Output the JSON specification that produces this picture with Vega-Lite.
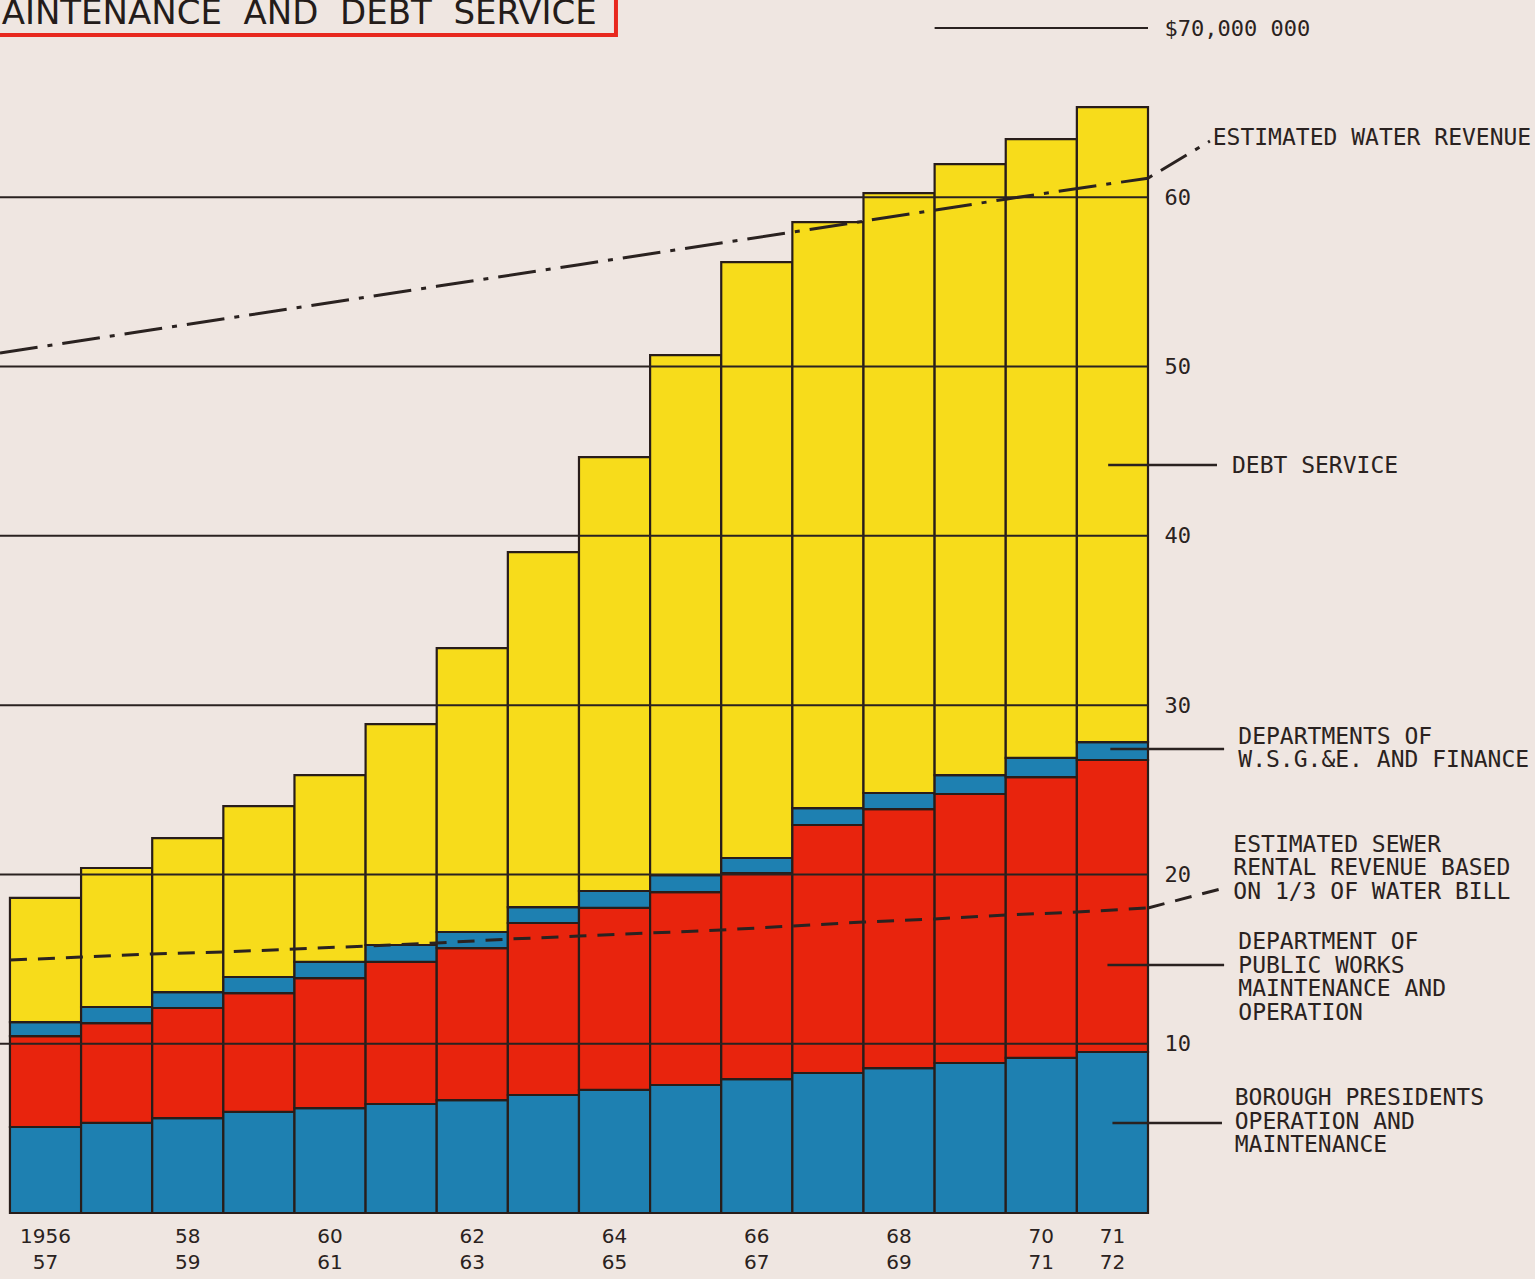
{
  "$schema": "https://vega.github.io/schema/vega-lite/v6.json",
  "width": 1148,
  "height": 1185,
  "autosize": {"type": "none"},
  "padding": {"left": 0, "top": 28, "right": 387, "bottom": 66},
  "background": "#efe6e1",
  "config": {"view": {"stroke": null}},
  "datasets": {
    "bars": [
      {"start":1956,"end":1957,"component":"Borough Presidents","order":1,"amount":5.08},
      {"start":1956,"end":1957,"component":"Public Works","order":2,"amount":5.37},
      {"start":1956,"end":1957,"component":"W.S.G.&E. and Finance","order":3,"amount":0.83},
      {"start":1956,"end":1957,"component":"Debt Service","order":4,"amount":7.33},
      {"start":1957,"end":1958,"component":"Borough Presidents","order":1,"amount":5.32},
      {"start":1957,"end":1958,"component":"Public Works","order":2,"amount":5.90},
      {"start":1957,"end":1958,"component":"W.S.G.&E. and Finance","order":3,"amount":0.95},
      {"start":1957,"end":1958,"component":"Debt Service","order":4,"amount":8.21},
      {"start":1958,"end":1959,"component":"Borough Presidents","order":1,"amount":5.61},
      {"start":1958,"end":1959,"component":"Public Works","order":2,"amount":6.50},
      {"start":1958,"end":1959,"component":"W.S.G.&E. and Finance","order":3,"amount":0.94},
      {"start":1958,"end":1959,"component":"Debt Service","order":4,"amount":9.10},
      {"start":1959,"end":1960,"component":"Borough Presidents","order":1,"amount":5.97},
      {"start":1959,"end":1960,"component":"Public Works","order":2,"amount":7.02},
      {"start":1959,"end":1960,"component":"W.S.G.&E. and Finance","order":3,"amount":0.95},
      {"start":1959,"end":1960,"component":"Debt Service","order":4,"amount":10.10},
      {"start":1960,"end":1961,"component":"Borough Presidents","order":1,"amount":6.20},
      {"start":1960,"end":1961,"component":"Public Works","order":2,"amount":7.68},
      {"start":1960,"end":1961,"component":"W.S.G.&E. and Finance","order":3,"amount":0.95},
      {"start":1960,"end":1961,"component":"Debt Service","order":4,"amount":11.04},
      {"start":1961,"end":1962,"component":"Borough Presidents","order":1,"amount":6.44},
      {"start":1961,"end":1962,"component":"Public Works","order":2,"amount":8.39},
      {"start":1961,"end":1962,"component":"W.S.G.&E. and Finance","order":3,"amount":1.00},
      {"start":1961,"end":1962,"component":"Debt Service","order":4,"amount":13.05},
      {"start":1962,"end":1963,"component":"Borough Presidents","order":1,"amount":6.67},
      {"start":1962,"end":1963,"component":"Public Works","order":2,"amount":8.98},
      {"start":1962,"end":1963,"component":"W.S.G.&E. and Finance","order":3,"amount":0.95},
      {"start":1962,"end":1963,"component":"Debt Service","order":4,"amount":16.77},
      {"start":1963,"end":1964,"component":"Borough Presidents","order":1,"amount":6.97},
      {"start":1963,"end":1964,"component":"Public Works","order":2,"amount":10.16},
      {"start":1963,"end":1964,"component":"W.S.G.&E. and Finance","order":3,"amount":0.94},
      {"start":1963,"end":1964,"component":"Debt Service","order":4,"amount":20.97},
      {"start":1964,"end":1965,"component":"Borough Presidents","order":1,"amount":7.27},
      {"start":1964,"end":1965,"component":"Public Works","order":2,"amount":10.75},
      {"start":1964,"end":1965,"component":"W.S.G.&E. and Finance","order":3,"amount":1.00},
      {"start":1964,"end":1965,"component":"Debt Service","order":4,"amount":25.63},
      {"start":1965,"end":1966,"component":"Borough Presidents","order":1,"amount":7.56},
      {"start":1965,"end":1966,"component":"Public Works","order":2,"amount":11.40},
      {"start":1965,"end":1966,"component":"W.S.G.&E. and Finance","order":3,"amount":1.00},
      {"start":1965,"end":1966,"component":"Debt Service","order":4,"amount":30.72},
      {"start":1966,"end":1967,"component":"Borough Presidents","order":1,"amount":7.91},
      {"start":1966,"end":1967,"component":"Public Works","order":2,"amount":12.17},
      {"start":1966,"end":1967,"component":"W.S.G.&E. and Finance","order":3,"amount":0.89},
      {"start":1966,"end":1967,"component":"Debt Service","order":4,"amount":35.20},
      {"start":1967,"end":1968,"component":"Borough Presidents","order":1,"amount":8.27},
      {"start":1967,"end":1968,"component":"Public Works","order":2,"amount":14.65},
      {"start":1967,"end":1968,"component":"W.S.G.&E. and Finance","order":3,"amount":1.00},
      {"start":1967,"end":1968,"component":"Debt Service","order":4,"amount":34.61},
      {"start":1968,"end":1969,"component":"Borough Presidents","order":1,"amount":8.56},
      {"start":1968,"end":1969,"component":"Public Works","order":2,"amount":15.30},
      {"start":1968,"end":1969,"component":"W.S.G.&E. and Finance","order":3,"amount":0.95},
      {"start":1968,"end":1969,"component":"Debt Service","order":4,"amount":35.44},
      {"start":1969,"end":1970,"component":"Borough Presidents","order":1,"amount":8.86},
      {"start":1969,"end":1970,"component":"Public Works","order":2,"amount":15.89},
      {"start":1969,"end":1970,"component":"W.S.G.&E. and Finance","order":3,"amount":1.12},
      {"start":1969,"end":1970,"component":"Debt Service","order":4,"amount":36.09},
      {"start":1970,"end":1971,"component":"Borough Presidents","order":1,"amount":9.16},
      {"start":1970,"end":1971,"component":"Public Works","order":2,"amount":16.59},
      {"start":1970,"end":1971,"component":"W.S.G.&E. and Finance","order":3,"amount":1.13},
      {"start":1970,"end":1971,"component":"Debt Service","order":4,"amount":36.56},
      {"start":1971,"end":1972,"component":"Borough Presidents","order":1,"amount":9.51},
      {"start":1971,"end":1972,"component":"Public Works","order":2,"amount":17.25},
      {"start":1971,"end":1972,"component":"W.S.G.&E. and Finance","order":3,"amount":1.06},
      {"start":1971,"end":1972,"component":"Debt Service","order":4,"amount":37.51}
    ],
    "sewer": [
      {"year":1956,"value":14.94},{"year":1957,"value":15.12},{"year":1958,"value":15.30},
      {"year":1959,"value":15.42},{"year":1960,"value":15.59},{"year":1961,"value":15.77},
      {"year":1962,"value":15.95},{"year":1963,"value":16.18},{"year":1964,"value":16.36},
      {"year":1965,"value":16.54},{"year":1966,"value":16.72},{"year":1967,"value":16.95},
      {"year":1968,"value":17.19},{"year":1969,"value":17.37},{"year":1970,"value":17.60},
      {"year":1971,"value":17.78},{"year":1972,"value":18.02}
    ],
    "water": [
      {"year":1955.86,"value":50.80},{"year":1958,"value":52.17},{"year":1962,"value":54.74},
      {"year":1964,"value":56.02},{"year":1967,"value":57.94},{"year":1970,"value":59.89},
      {"year":1972,"value":61.13}
    ],
    "grid": [{"v":10},{"v":20},{"v":30},{"v":40},{"v":50},{"v":60}],
    "xlabels": [
      {"start":1956,"label":"1956\n57"},{"start":1958,"label":"58\n59"},
      {"start":1960,"label":"60\n61"},{"start":1962,"label":"62\n63"},
      {"start":1964,"label":"64\n65"},{"start":1966,"label":"66\n67"},
      {"start":1968,"label":"68\n69"},{"start":1970,"label":"70\n71"},
      {"start":1971,"label":"71\n72"}
    ]
  },
  "layer": [
    {
      "data": {"name": "bars"},
      "transform": [
        {"stack": "amount", "groupby": ["start"], "sort": [{"field": "order", "order": "ascending"}], "as": ["y0", "y1"]}
      ],
      "mark": {"type": "rect", "stroke": "#281d1a", "strokeWidth": 2.2},
      "encoding": {
        "x": {"field": "start", "type": "quantitative", "scale": {"domain": [1955.86, 1972], "nice": false, "zero": false}, "axis": null, "title": null},
        "x2": {"field": "end"},
        "y": {"field": "y0", "type": "quantitative", "scale": {"domain": [0, 70], "nice": false},
          "title": null,
          "axis": {"orient": "right", "values": [10,20,30,40,50,60,70], "ticks": false, "domain": false, "grid": false,
            "labelPadding": 16, "labelFont": "DejaVu Sans Mono", "labelFontSize": 22, "labelColor": "#2a2220",
            "labelFlush": false, "labelOverlap": false, "labelBound": false, "title": null,
            "labelExpr": "datum.value == 70 ? '$70,000 000' : datum.label"}},
        "y2": {"field": "y1"},
        "color": {"field": "component", "type": "nominal", "legend": null,
          "scale": {"domain": ["Borough Presidents", "Public Works", "W.S.G.&E. and Finance", "Debt Service"],
                    "range": ["#1e80b1", "#e8240d", "#1e80b1", "#f7dc1b"]}}
      }
    },
    {
      "data": {"name": "grid"},
      "mark": {"type": "rule", "color": "#2a2220", "strokeWidth": 2},
      "encoding": {"y": {"field": "v", "type": "quantitative", "title": null}}
    },
    {
      "data": {"values": [{}]},
      "mark": {"type": "rule", "color": "#2a2220", "strokeWidth": 2},
      "encoding": {
        "x": {"datum": 1969.0, "type": "quantitative"},
        "x2": {"datum": 1972},
        "y": {"datum": 70, "type": "quantitative"}
      }
    },
    {
      "data": {"name": "sewer"},
      "mark": {"type": "line", "color": "#2a2220", "strokeWidth": 3, "strokeDash": [17, 11]},
      "encoding": {
        "x": {"field": "year", "type": "quantitative", "title": null},
        "y": {"field": "value", "type": "quantitative", "title": null}
      }
    },
    {
      "data": {"name": "water"},
      "mark": {"type": "line", "color": "#2a2220", "strokeWidth": 3, "strokeDash": [38, 10, 5, 10]},
      "encoding": {
        "x": {"field": "year", "type": "quantitative", "title": null},
        "y": {"field": "value", "type": "quantitative", "title": null}
      }
    },
    {
      "data": {"values": [{}]},
      "mark": {"type": "rule", "color": "#2a2220", "strokeWidth": 3, "strokeDash": [17, 11]},
      "encoding": {
        "x": {"datum": 1972.0, "type": "quantitative"}, "x2": {"datum": 1973.13},
        "y": {"datum": 18.02, "type": "quantitative"}, "y2": {"datum": 19.26}
      }
    },
    {
      "data": {"values": [{}]},
      "mark": {"type": "rule", "color": "#2a2220", "strokeWidth": 3, "strokeDash": [5, 10, 30, 10]},
      "encoding": {
        "x": {"datum": 1972.0, "type": "quantitative"}, "x2": {"datum": 1972.87},
        "y": {"datum": 61.13, "type": "quantitative"}, "y2": {"datum": 63.32}
      }
    },
    {
      "data": {"values": [{}]},
      "mark": {"type": "rule", "color": "#2a2220", "strokeWidth": 2.5},
      "encoding": {"x": {"datum": 1971.44, "type": "quantitative"}, "x2": {"datum": 1972.97}, "y": {"datum": 44.18, "type": "quantitative"}}
    },
    {
      "data": {"values": [{}]},
      "mark": {"type": "rule", "color": "#2a2220", "strokeWidth": 2.5},
      "encoding": {"x": {"datum": 1971.47, "type": "quantitative"}, "x2": {"datum": 1973.07}, "y": {"datum": 27.41, "type": "quantitative"}}
    },
    {
      "data": {"values": [{}]},
      "mark": {"type": "rule", "color": "#2a2220", "strokeWidth": 2.5},
      "encoding": {"x": {"datum": 1971.43, "type": "quantitative"}, "x2": {"datum": 1973.07}, "y": {"datum": 14.65, "type": "quantitative"}}
    },
    {
      "data": {"values": [{}]},
      "mark": {"type": "rule", "color": "#2a2220", "strokeWidth": 2.5},
      "encoding": {"x": {"datum": 1971.5, "type": "quantitative"}, "x2": {"datum": 1973.04}, "y": {"datum": 5.32, "type": "quantitative"}}
    },
    {
      "data": {"values": [{}]},
      "mark": {"type": "text", "font": "DejaVu Sans Mono", "fontSize": 23, "color": "#2a2220", "align": "left", "baseline": "middle"},
      "encoding": {"x": {"datum": 1972.91, "type": "quantitative"}, "y": {"datum": 63.5, "type": "quantitative"}, "text": {"value": "ESTIMATED WATER REVENUE"}}
    },
    {
      "data": {"values": [{}]},
      "mark": {"type": "text", "font": "DejaVu Sans Mono", "fontSize": 23, "color": "#2a2220", "align": "left", "baseline": "middle"},
      "encoding": {"x": {"datum": 1973.18, "type": "quantitative"}, "y": {"datum": 44.12, "type": "quantitative"}, "text": {"value": "DEBT SERVICE"}}
    },
    {
      "data": {"values": [{}]},
      "mark": {"type": "text", "font": "DejaVu Sans Mono", "fontSize": 23, "color": "#2a2220", "align": "left", "baseline": "middle", "lineHeight": 23.5},
      "encoding": {"x": {"datum": 1973.27, "type": "quantitative"}, "y": {"datum": 28.12, "type": "quantitative"}, "text": {"value": ["DEPARTMENTS OF", "W.S.G.&E. AND FINANCE"]}}
    },
    {
      "data": {"values": [{}]},
      "mark": {"type": "text", "font": "DejaVu Sans Mono", "fontSize": 23, "color": "#2a2220", "align": "left", "baseline": "middle", "lineHeight": 23.5},
      "encoding": {"x": {"datum": 1973.2, "type": "quantitative"}, "y": {"datum": 21.74, "type": "quantitative"}, "text": {"value": ["ESTIMATED SEWER", "RENTAL REVENUE BASED", "ON 1/3 OF WATER BILL"]}}
    },
    {
      "data": {"values": [{}]},
      "mark": {"type": "text", "font": "DejaVu Sans Mono", "fontSize": 23, "color": "#2a2220", "align": "left", "baseline": "middle", "lineHeight": 23.7},
      "encoding": {"x": {"datum": 1973.27, "type": "quantitative"}, "y": {"datum": 16.01, "type": "quantitative"}, "text": {"value": ["DEPARTMENT OF", "PUBLIC WORKS", "MAINTENANCE AND", "OPERATION"]}}
    },
    {
      "data": {"values": [{}]},
      "mark": {"type": "text", "font": "DejaVu Sans Mono", "fontSize": 23, "color": "#2a2220", "align": "left", "baseline": "middle", "lineHeight": 23.5},
      "encoding": {"x": {"datum": 1973.22, "type": "quantitative"}, "y": {"datum": 6.79, "type": "quantitative"}, "text": {"value": ["BOROUGH PRESIDENTS", "OPERATION AND", "MAINTENANCE"]}}
    },
    {
      "data": {"name": "xlabels"},
      "mark": {"type": "text", "font": "DejaVu Sans", "fontSize": 20, "color": "#2a2220", "align": "center", "baseline": "top", "dx": 35.5, "dy": 14, "lineHeight": 26, "lineBreak": "\n"},
      "encoding": {
        "x": {"field": "start", "type": "quantitative", "title": null},
        "y": {"datum": 0, "type": "quantitative"},
        "text": {"field": "label", "type": "nominal"}
      }
    },
    {
      "data": {"values": [{}]},
      "mark": {"type": "rect", "fill": null, "fillOpacity": 0, "stroke": "#e8281e", "strokeWidth": 4},
      "encoding": {"x": {"datum": 1954.5, "type": "quantitative"}, "x2": {"datum": 1964.52}, "y": {"datum": 69.58, "type": "quantitative"}, "y2": {"datum": 73.5}}
    },
    {
      "data": {"values": [{}]},
      "mark": {"type": "text", "font": "DejaVu Sans", "fontSize": 34, "color": "#241c1a", "align": "right", "baseline": "alphabetic"},
      "encoding": {"x": {"datum": 1964.25, "type": "quantitative"}, "y": {"datum": 70.23, "type": "quantitative"}, "text": {"value": "MAINTENANCE\u00a0\u00a0AND\u00a0\u00a0DEBT\u00a0\u00a0SERVICE"}}
    }
  ]
}
